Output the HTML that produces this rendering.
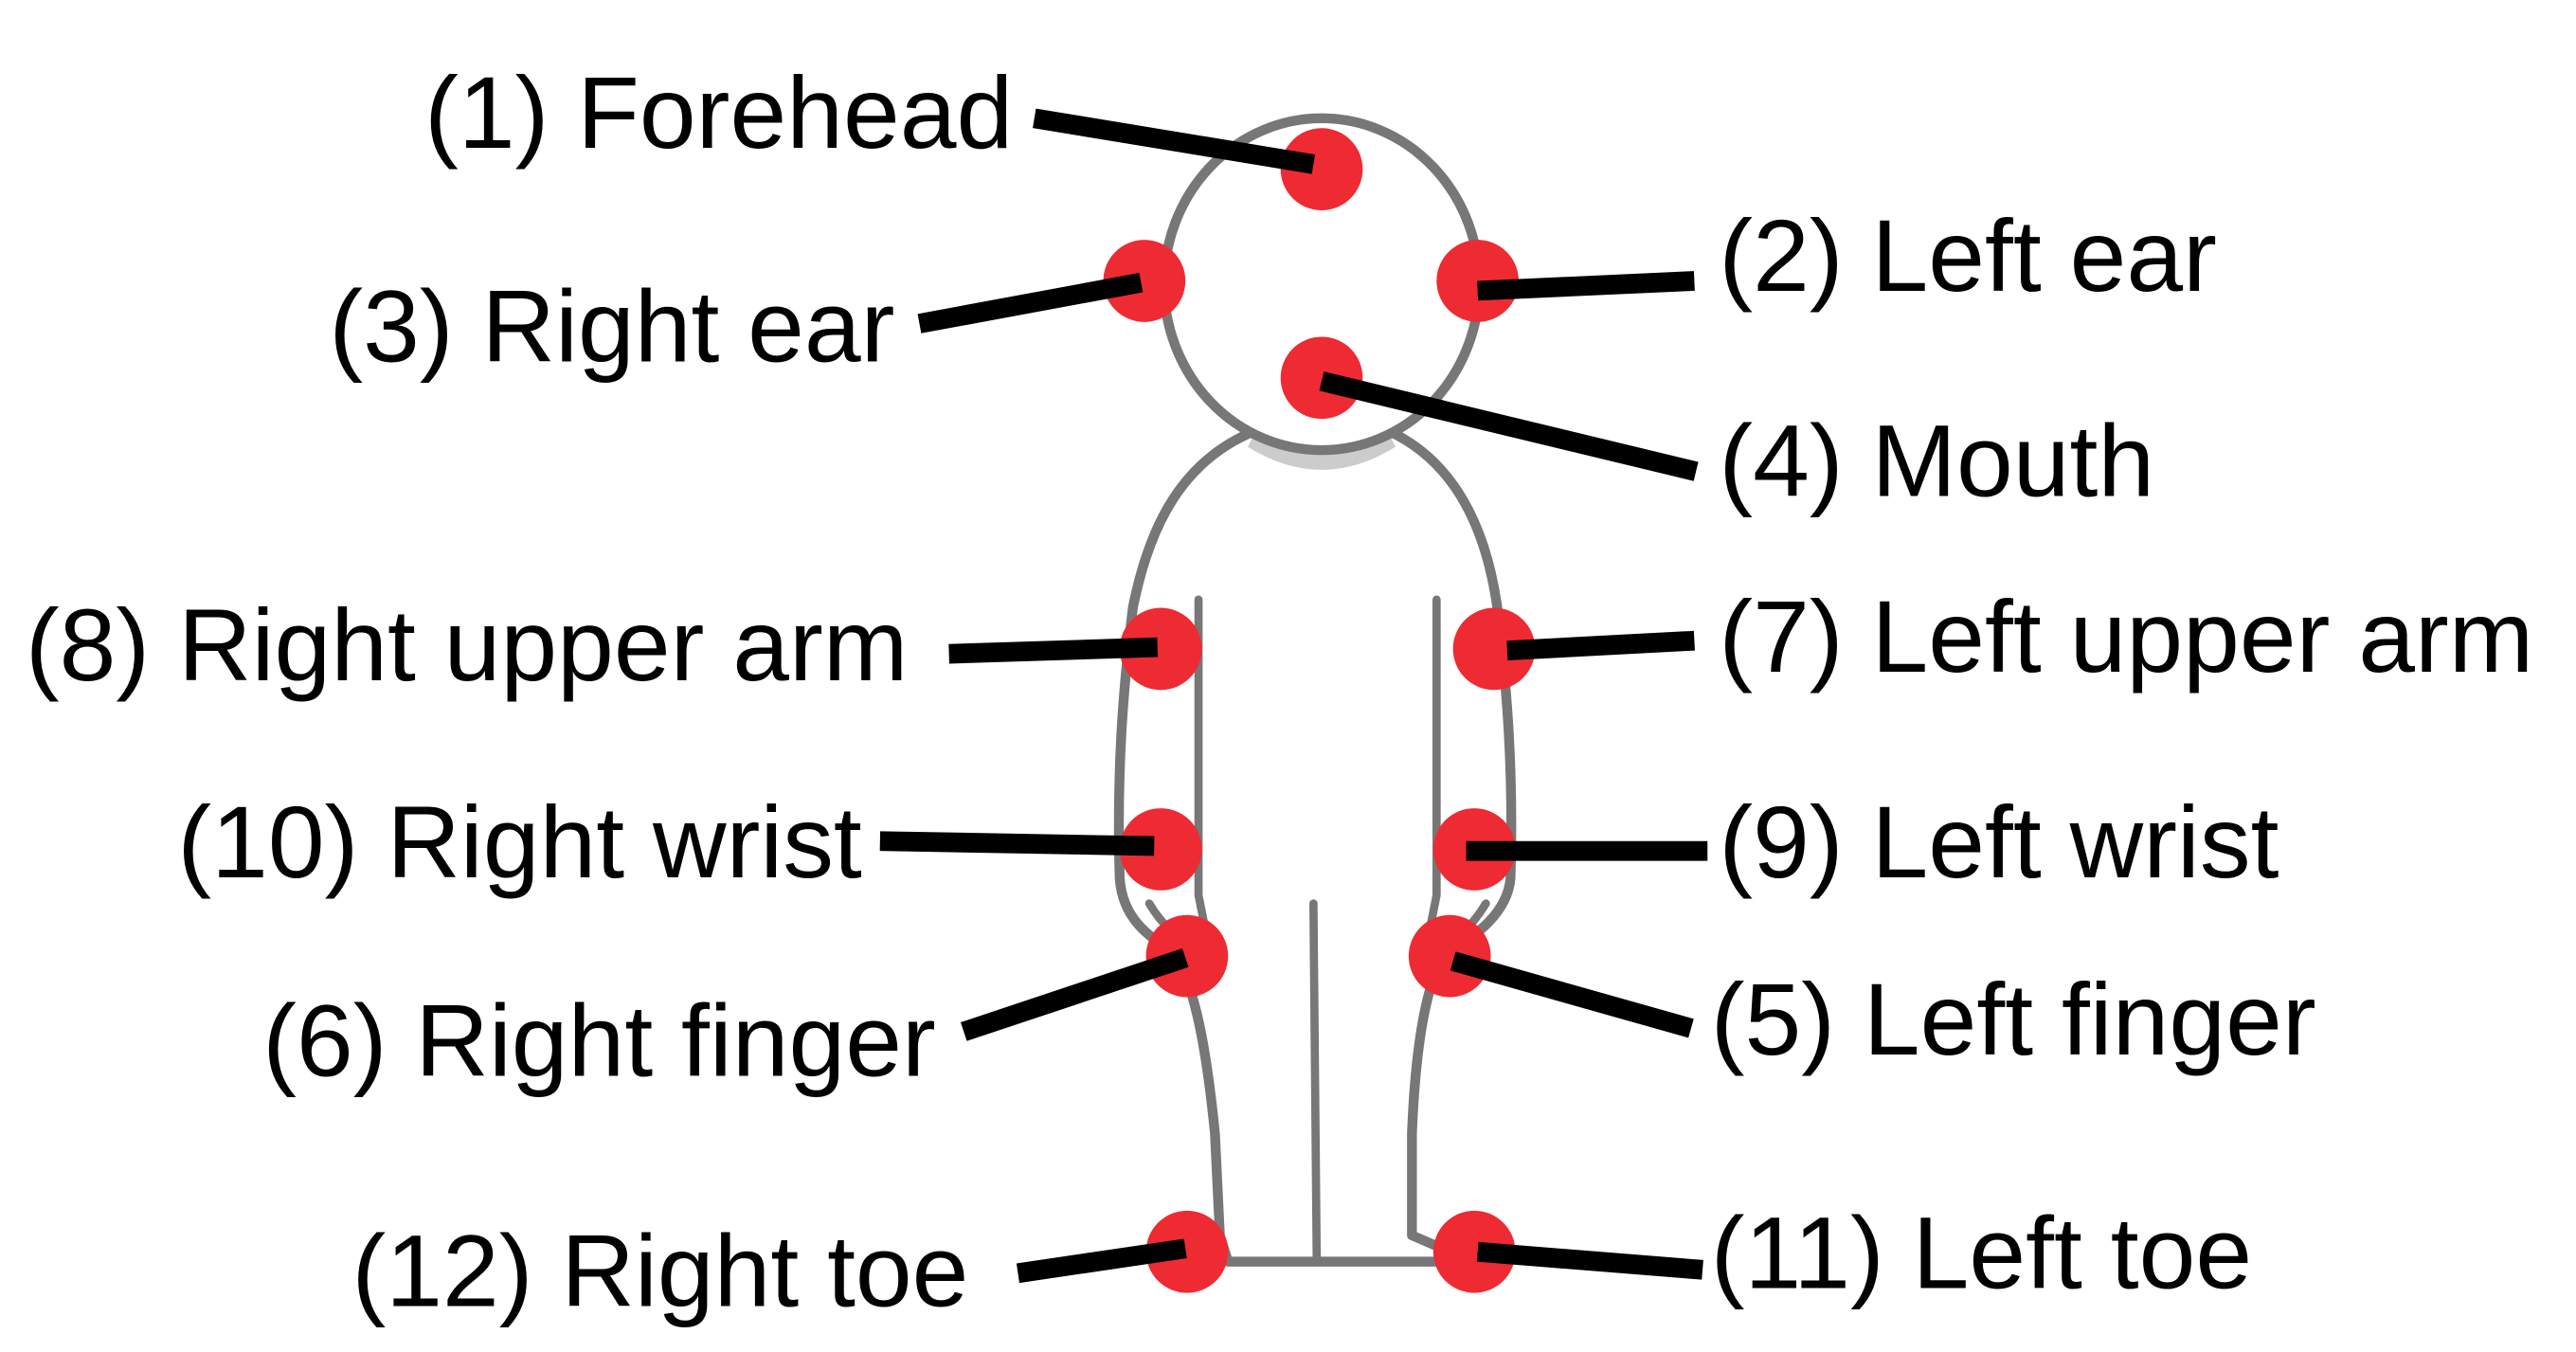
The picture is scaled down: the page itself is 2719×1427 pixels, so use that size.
<!DOCTYPE html>
<html><head><meta charset="utf-8"><style>
html,body{margin:0;padding:0;background:#fff;}
svg{display:block;}
text{font-family:"Liberation Sans",Arial,sans-serif;font-size:62px;fill:#000;}
</style></head><body>
<svg width="2719" height="1427" viewBox="0 0 1569 823" preserveAspectRatio="none" xmlns="http://www.w3.org/2000/svg">
<rect width="1569" height="823" fill="#fff"/>
<path d="M765,262 C720,280 700,320 690,370 C684,420 680,470 682,535 C684,560 700,570 715,580 C728,600 735,640 740,690 L743,752 L748,768 L897,768 L860,752 L860,690 C862,640 868,600 880,580 C900,570 918,555 920,535 C922,470 918,420 912,370 C905,320 885,280 845,262 Z" fill="#fff" stroke="#777" stroke-width="6" stroke-linejoin="round"/>
<path d="M760,272 Q805,300 850,272 L845,262 Q805,285 765,262 Z" fill="#ccc"/>
<ellipse cx="805" cy="173" rx="96" ry="101" fill="#fff" stroke="#777" stroke-width="6"/>
<g stroke="#777" stroke-width="5" fill="none" stroke-linecap="round">
<path d="M730,365 L730,545 L735,570"/>
<path d="M875,365 L875,545 L870,570"/>
<path d="M800,550 L802,768"/>
<path d="M700,550 Q712,570 728,575"/>
<path d="M905,550 Q893,570 878,575"/>
</g>
<g fill="#ee2a33">
<circle cx="805" cy="103" r="25"/>
<circle cx="697" cy="171" r="25"/>
<circle cx="900" cy="171" r="25"/>
<circle cx="805" cy="230" r="25"/>
<circle cx="707" cy="395" r="25"/>
<circle cx="910" cy="395" r="25"/>
<circle cx="707" cy="517" r="25"/>
<circle cx="898" cy="517" r="25"/>
<circle cx="723" cy="582" r="25"/>
<circle cx="883" cy="582" r="25"/>
<circle cx="723" cy="762" r="25"/>
<circle cx="898" cy="762" r="25"/>
</g>
<g stroke="#000" stroke-width="12" stroke-linecap="butt">
<line x1="630" y1="72" x2="800" y2="100"/>
<line x1="560" y1="197" x2="695" y2="172"/>
<line x1="900" y1="177" x2="1032" y2="171"/>
<line x1="805" y1="232" x2="1033" y2="287"/>
<line x1="578" y1="398" x2="705" y2="394"/>
<line x1="918" y1="396" x2="1032" y2="390"/>
<line x1="536" y1="512" x2="703" y2="515"/>
<line x1="893" y1="518" x2="1040" y2="518"/>
<line x1="587" y1="628" x2="722" y2="583"/>
<line x1="885" y1="585" x2="1030" y2="626"/>
<line x1="620" y1="775" x2="722" y2="760"/>
<line x1="900" y1="762" x2="1037" y2="773"/>
</g>
<g text-anchor="end">
<text x="617" y="90">(1) Forehead</text>
<text x="545" y="220">(3) Right ear</text>
<text x="553" y="414">(8) Right upper arm</text>
<text x="525" y="534">(10) Right wrist</text>
<text x="570" y="655">(6) Right finger</text>
<text x="590" y="795">(12) Right toe</text>
</g>
<text x="1047" y="177">(2) Left ear</text>
<text x="1047" y="302">(4) Mouth</text>
<text x="1047" y="409">(7) Left upper arm</text>
<text x="1047" y="534">(9) Left wrist</text>
<text x="1042" y="642">(5) Left finger</text>
<text x="1042" y="784">(11) Left toe</text>
</svg>
</body></html>
